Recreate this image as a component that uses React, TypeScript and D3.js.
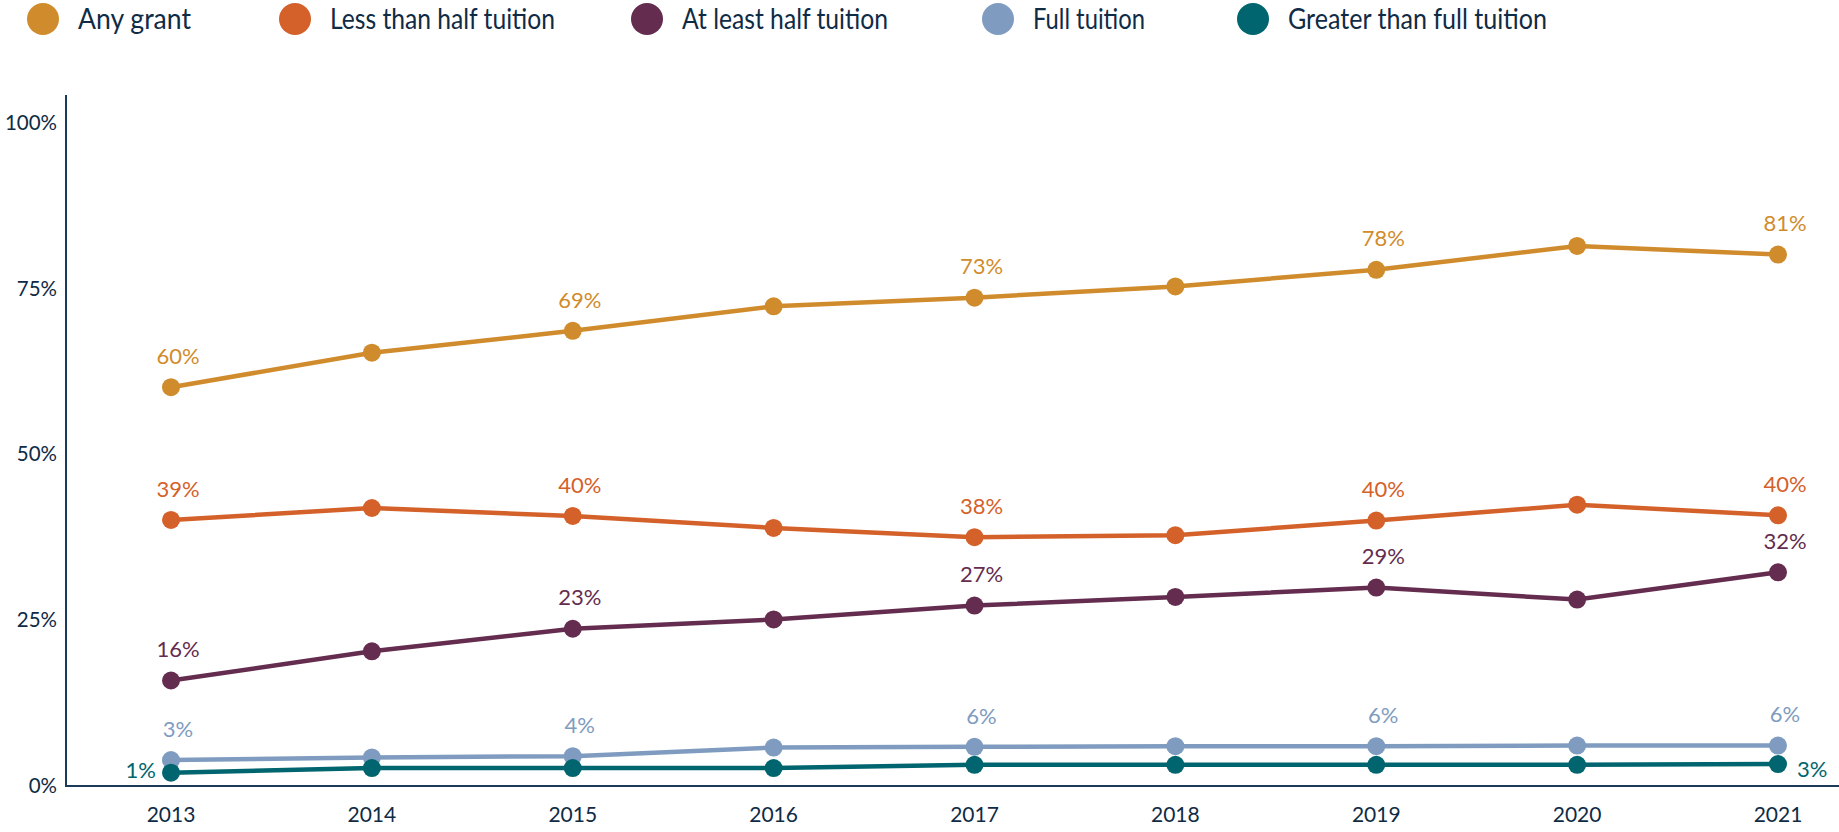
import { scaleLinear, scalePoint, line } from "d3"

// chart data
const years = ["2013", "2014", "2015", "2016", "2017", "2018", "2019", "2020", "2021"]
const seriesNames = ["Any grant", "Less than half tuition", "At least half tuition", "Full tuition", "Greater than full tuition"]
const seriesColors = ["#d08c2c", "#d4612a", "#642c4e", "#7f9cc0", "#00656e"]

const anyGrant = [60.1, 65.3, 68.6, 72.3, 73.6, 75.3, 77.8, 81.4, 80.1]
const lessThanHalf = [40.1, 41.9, 40.7, 38.9, 37.5, 37.8, 40.0, 42.4, 40.8]
const atLeastHalf = [15.9, 20.3, 23.7, 25.1, 27.2, 28.5, 29.9, 28.1, 32.2]
const fullTuition = [3.9, 4.3, 4.5, 5.8, 5.9, 6.0, 6.0, 6.1, 6.1]
const greaterThanFull = [2.0, 2.7, 2.7, 2.7, 3.2, 3.2, 3.2, 3.2, 3.3]
const seriesValues = [anyGrant, lessThanHalf, atLeastHalf, fullTuition, greaterThanFull]

// value labels: [series index, year index, text, placement]
const valueLabels: [number, number, string, string][] = [
  [0, 0, "60%", "above"], [0, 2, "69%", "above"], [0, 4, "73%", "above"], [0, 6, "78%", "above"], [0, 8, "81%", "above"],
  [1, 0, "39%", "above"], [1, 2, "40%", "above"], [1, 4, "38%", "above"], [1, 6, "40%", "above"], [1, 8, "40%", "above"],
  [2, 0, "16%", "above"], [2, 2, "23%", "above"], [2, 4, "27%", "above"], [2, 6, "29%", "above"], [2, 8, "32%", "above"],
  [3, 0, "3%", "above"], [3, 2, "4%", "above"], [3, 4, "6%", "above"], [3, 6, "6%", "above"], [3, 8, "6%", "above"],
  [4, 0, "1%", "left"], [4, 8, "3%", "right"],
]

const yTicks = [0, 25, 50, 75, 100]
const yTickLabels = ["0%", "25%", "50%", "75%", "100%"]

const W = 1839
const H = 832
const font = "Lato, 'Open Sans', sans-serif"
const ink = "#0f2b45"
const axisColor = "#1b3a57"

const legendX = [43, 295, 647, 998, 1253]
const legendW = [113, 225, 206, 112, 259]

export default function App() {
  const x = scalePoint<string>().domain(years).range([171, 1778])
  const y = scaleLinear().domain([0, 100]).range([786, 122.5])
  const path = line<number>().x((_, i) => x(years[i]) as number).y(d => y(d))

  return (
    <svg width={W} height={H} style={{ position: "absolute", left: 0, top: 0, background: "#fff" }} fontFamily={font}>
      {/* legend */}
      {seriesNames.map((name, i) => (
        <g key={name} transform={`translate(${legendX[i]},19)`}>
          <circle r={16} fill={seriesColors[i]} />
          <text x={35} dy="0.36em" fontSize={28} fill={ink}
            textLength={legendW[i]} lengthAdjust="spacingAndGlyphs">{name}</text>
        </g>
      ))}

      {/* axes */}
      <line x1={66} x2={66} y1={95} y2={787} stroke={axisColor} strokeWidth={2} />
      <line x1={65} x2={W} y1={786} y2={786} stroke={axisColor} strokeWidth={2} />
      {yTicks.map((t, i) => (
        <text key={t} x={57} y={y(t)} dy="0.35em" textAnchor="end" fontSize={20.5} fill={ink}>{yTickLabels[i]}</text>
      ))}
      {years.map(yr => (
        <text key={yr} x={x(yr)} y={815} dy="0.35em" textAnchor="middle" fontSize={21} fill={ink}>{yr}</text>
      ))}

      {/* lines and dots */}
      {seriesValues.map((vals, s) => (
        <g key={s}>
          <path d={path(vals) || ""} fill="none" stroke={seriesColors[s]} strokeWidth={4.5} />
          {vals.map((v, i) => (
            <circle key={i} cx={x(years[i])} cy={y(v)} r={9} fill={seriesColors[s]} />
          ))}
        </g>
      ))}

      {/* value labels */}
      {valueLabels.map(([s, i, txt, pos], k) => {
        const cx = x(years[i]) as number
        const cy = y(seriesValues[s][i])
        let lx = cx + 7, ly = cy - 31, anchor = "middle"
        if (pos === "left") { lx = cx - 15; ly = cy - 2; anchor = "end" }
        if (pos === "right") { lx = cx + 19; ly = cy + 5; anchor = "start" }
        return (
          <text key={k} x={lx} y={ly} dy="0.35em" textAnchor={anchor} fontSize={22} fill={seriesColors[s]}>{txt}</text>
        )
      })}
    </svg>
  )
}
